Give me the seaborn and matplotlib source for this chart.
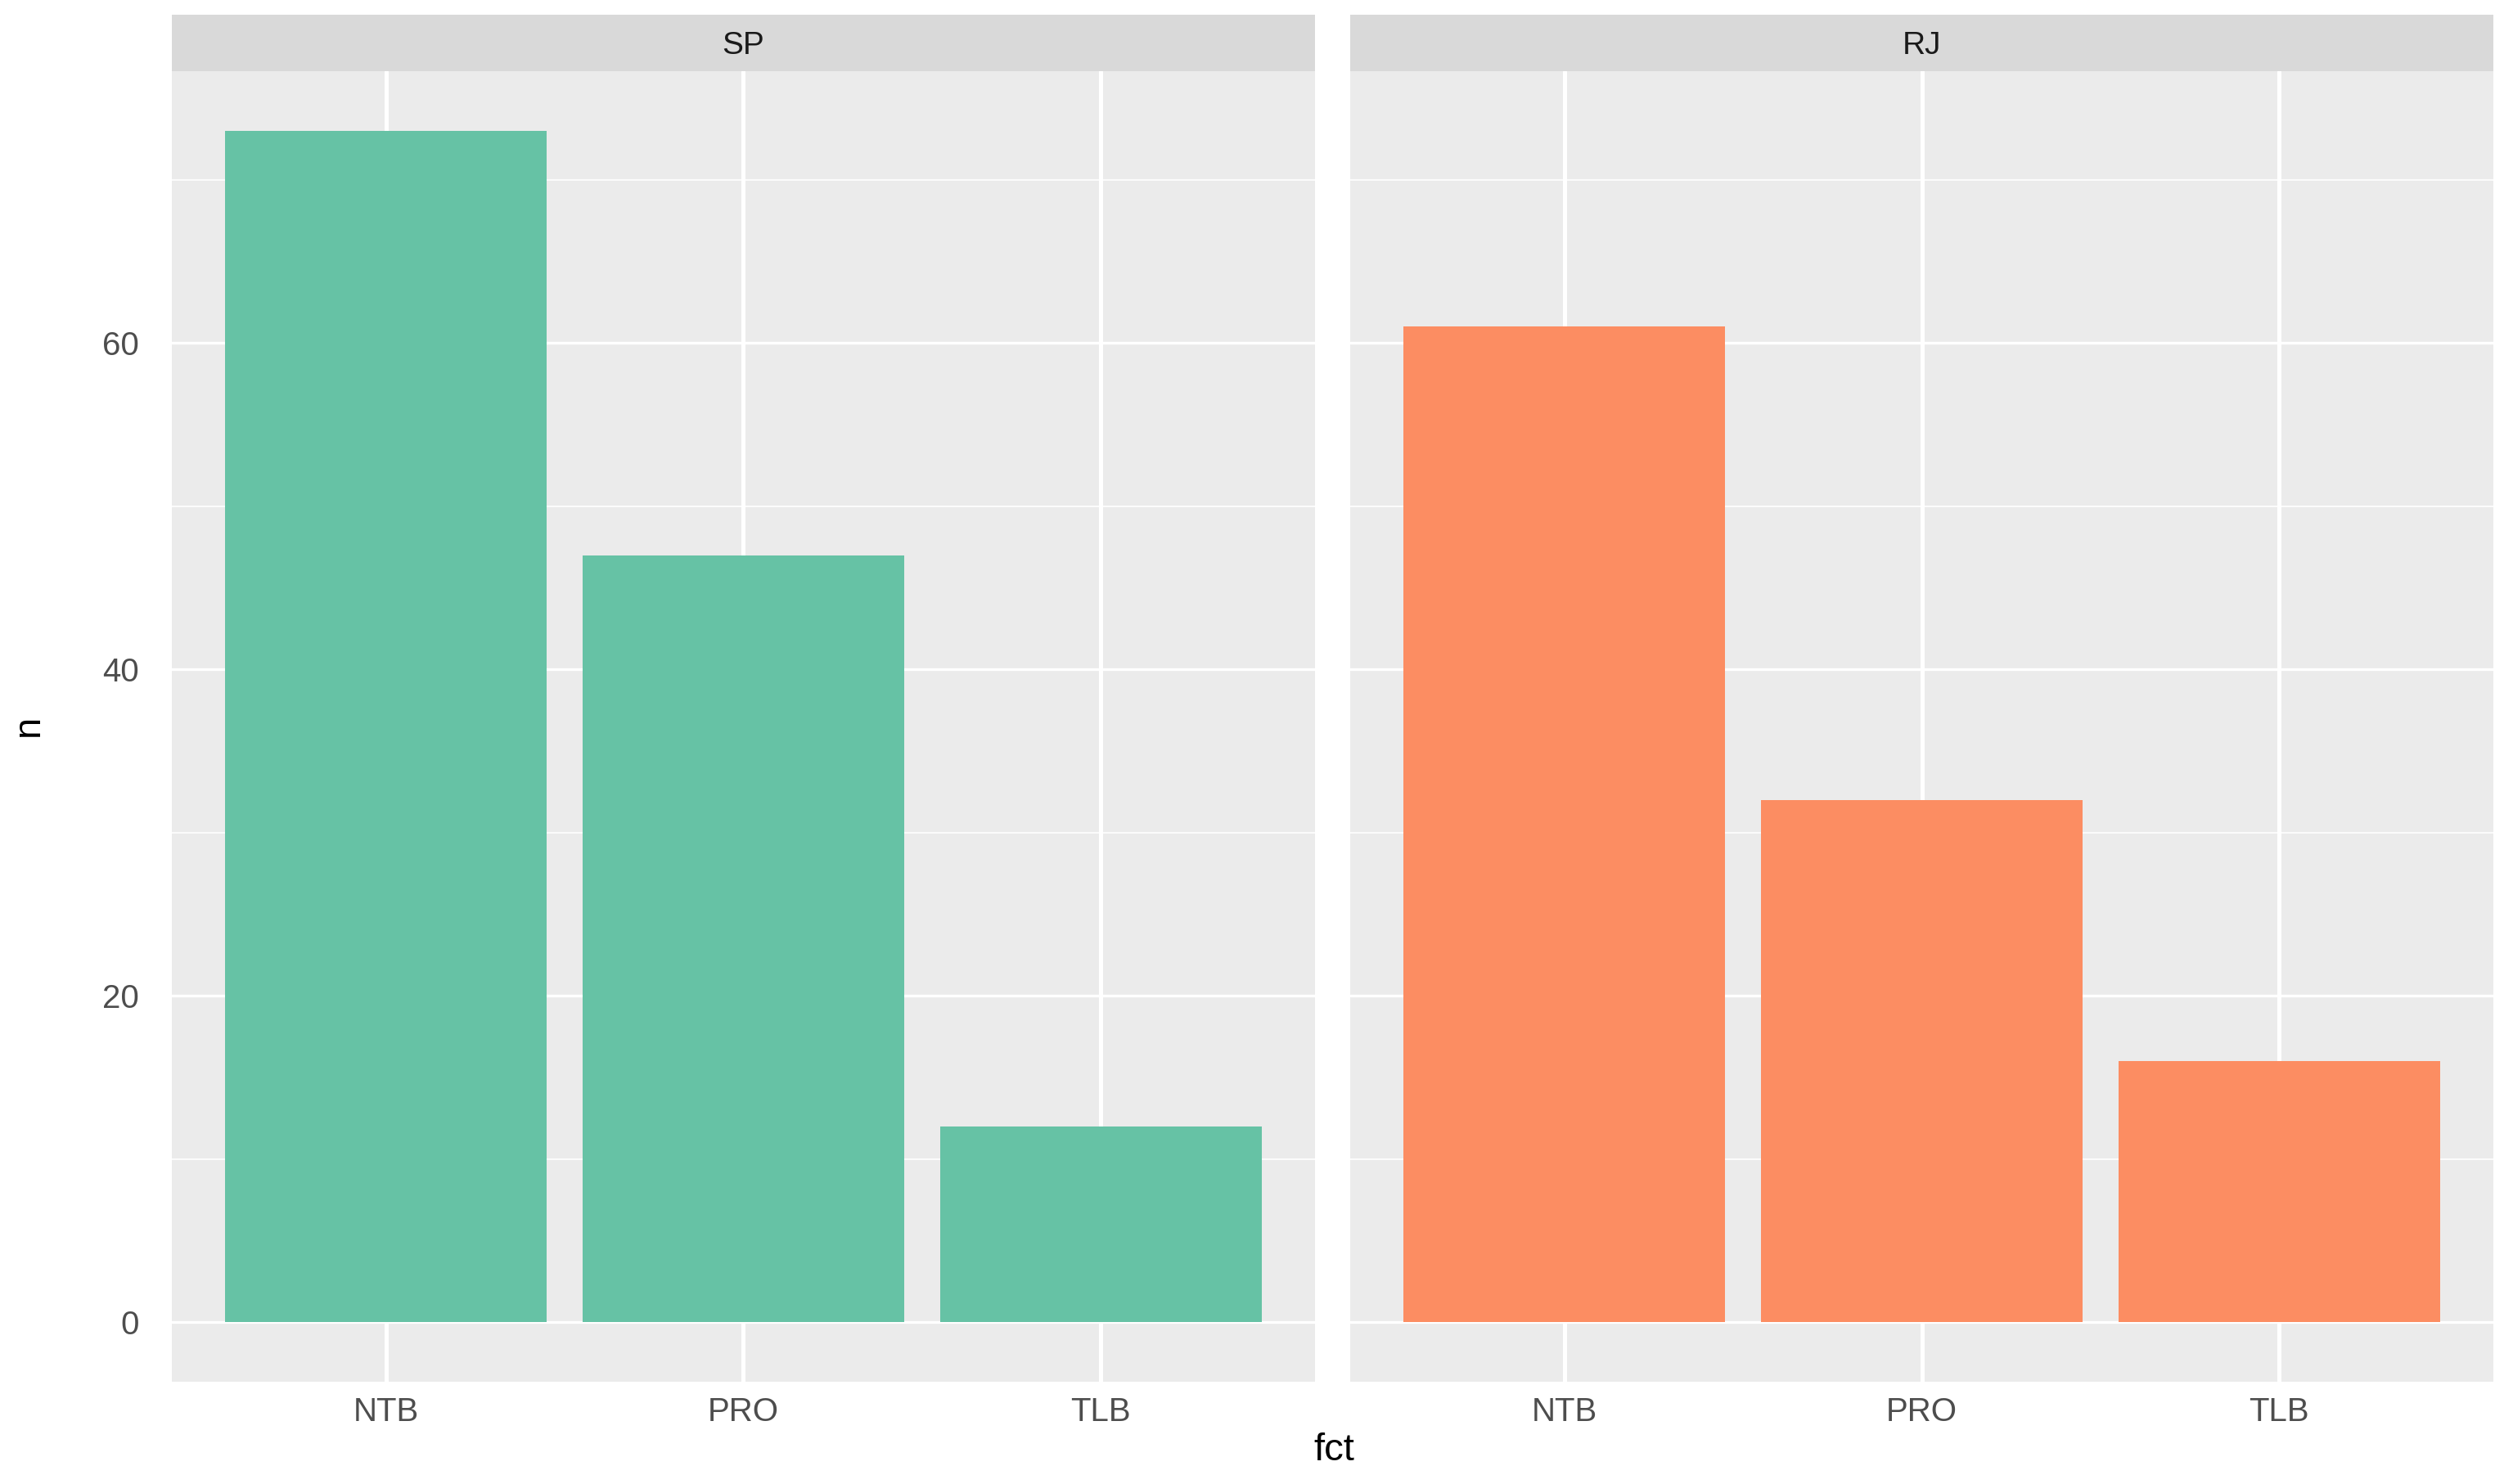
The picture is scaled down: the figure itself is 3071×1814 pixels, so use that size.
import matplotlib
matplotlib.use("Agg")
import matplotlib.pyplot as plt
import numpy as np
import pandas as pd
import seaborn as sns

# Datos
facets = ["SP", "RJ"]
categories = ["NTB", "PRO", "TLB"]
sp_counts = [73, 47, 12]
rj_counts = [61, 32, 16]
facet_colors = ["#66C2A5", "#FC8D62"]
y_major = [0, 20, 40, 60]
y_minor = [10, 30, 50, 70]

df = pd.DataFrame({
    "estado": ["SP"] * 3 + ["RJ"] * 3,
    "fct": categories * 2,
    "n": sp_counts + rj_counts,
})

sns.set_style("white")
plt.rcParams["font.family"] = ["Liberation Sans", "DejaVu Sans"]

W, H = 3071, 1814
fig = plt.figure(figsize=(W / 100, H / 100), dpi=100)

panel_w = 1397 / W
lefts = [210 / W, 1650 / W]
bottom = 1 - 1689 / H
top = 1 - 87 / H
strip_top = 1 - 18 / H

ymax = max(df["n"])
ylim = (-0.05 * ymax, ymax * 1.05)

for i, (facet, color) in enumerate(zip(facets, facet_colors)):
    ax = fig.add_axes([lefts[i], bottom, panel_w, top - bottom])
    ax.set_facecolor("#EBEBEB")
    sub = df[df["estado"] == facet]
    sns.barplot(data=sub, x="fct", y="n", order=categories, color=color,
                saturation=1, width=0.9, linewidth=0, ax=ax, zorder=3)
    ax.set_xlim(-0.6, 2.6)
    ax.set_ylim(*ylim)
    ax.set_yticks(y_major)
    ax.set_yticks(y_minor, minor=True)
    ax.grid(True, which="major", axis="x", color="white", linewidth=3.6, zorder=0)
    ax.grid(True, which="major", axis="y", color="white", linewidth=2.4, zorder=0)
    ax.grid(True, which="minor", axis="y", color="white", linewidth=1.2, zorder=0)
    ax.set_axisbelow(True)
    for s in ax.spines.values():
        s.set_visible(False)
    ax.set_xlabel("")
    ax.set_ylabel("")
    ax.tick_params(axis="x", which="major", length=9, width=2.4, color="#333333",
                   labelsize=29, labelcolor="#4D4D4D", pad=4)
    ax.tick_params(axis="y", which="minor", length=0)
    if i == 0:
        ax.tick_params(axis="y", which="major", length=15, width=2.4, color="#333333",
                       labelsize=29, labelcolor="#4D4D4D", pad=14)
    else:
        ax.tick_params(axis="y", which="major", length=0, labelleft=False)

    # Franja del facet al estilo ggplot
    sax = fig.add_axes([lefts[i], top, panel_w, strip_top - top])
    sax.set_facecolor("#D9D9D9")
    sax.set_xticks([])
    sax.set_yticks([])
    for s in sax.spines.values():
        s.set_visible(False)
    sax.text(0.5, 0.45, facet, ha="center", va="center", fontsize=28,
             color="#1A1A1A", transform=sax.transAxes)

fig.text(1630 / W, 1 - 1773 / H, "fct", ha="center", va="center",
         fontsize=34, color="black")
fig.text(35 / W, 1 - 887 / H, "n", ha="center", va="center",
         fontsize=34, color="black", rotation=90)

fig.savefig("out.png", dpi=100)
